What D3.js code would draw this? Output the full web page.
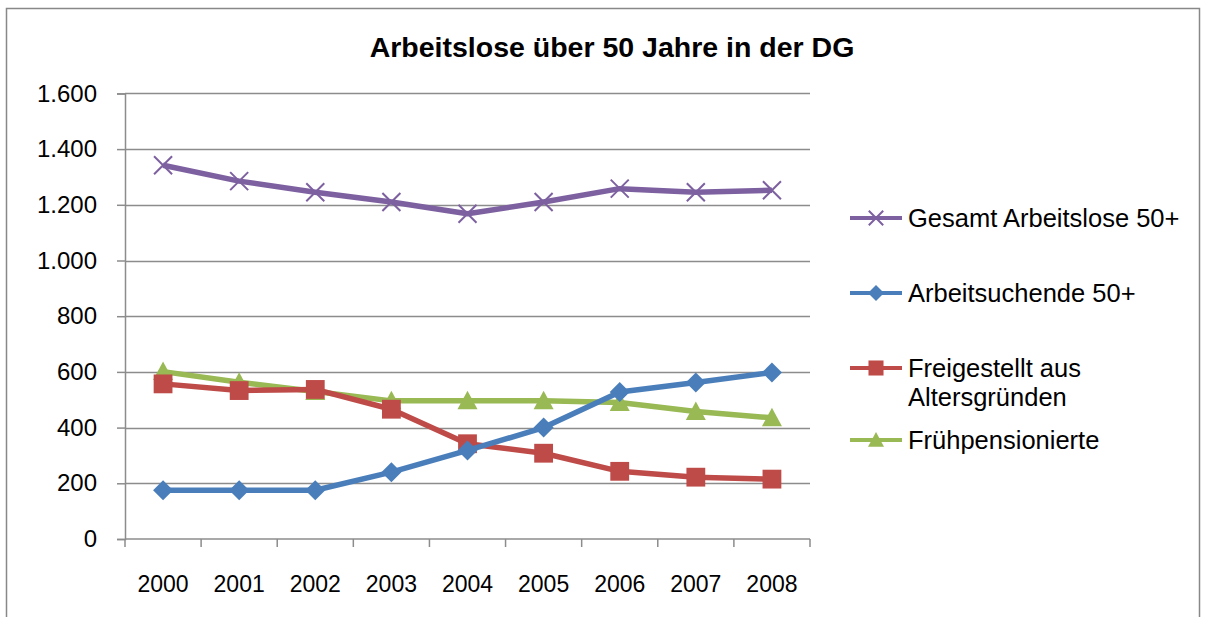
<!DOCTYPE html>
<html>
<head>
<meta charset="utf-8">
<script src="https://cdn.jsdelivr.net/npm/d3@7"></script>
<style>
  body { margin: 0; background: #fff; }
  text { font-family: "Liberation Sans", Arial, sans-serif; }
</style>
</head>
<body>
<svg id="chart" width="1207" height="617"></svg>
<script>
var years = ["2000","2001","2002","2003","2004","2005","2006","2007","2008"];
var gesamt = [1342, 1285, 1245, 1210, 1168, 1210, 1258, 1245, 1252];
var suchende = [175, 175, 175, 240, 318, 400, 528, 562, 598];
var freigestellt = [557, 533, 537, 466, 342, 308, 243, 222, 215];
var frueh = [601, 563, 530, 496, 496, 496, 490, 458, 435];
var yTicks = [0, 200, 400, 600, 800, 1000, 1200, 1400, 1600];

var series = [
  { name: ["Gesamt Arbeitslose 50+"], values: gesamt, color: "#7D60A0", marker: "x" },
  { name: ["Arbeitsuchende 50+"], values: suchende, color: "#4A7EBB", marker: "diamond" },
  { name: ["Freigestellt aus", "Altersgründen"], values: freigestellt, color: "#BE4B48", marker: "square" },
  { name: ["Frühpensionierte"], values: frueh, color: "#98B954", marker: "triangle" }
];

var svg = d3.select('#chart');

// outer frame
svg.append('rect')
  .attr('x', 6.5).attr('y', 8.5).attr('width', 1193).attr('height', 640)
  .attr('fill', 'none').attr('stroke', '#888').attr('stroke-width', 1.5);

svg.append('text')
  .attr('x', 612).attr('y', 57)
  .attr('text-anchor', 'middle')
  .attr('font-size', 28.5).attr('font-weight', 'bold')
  .text('Arbeitslose über 50 Jahre in der DG');

var pLeft = 125, pRight = 810, pTop = 93.4, pBottom = 539;
var x = d3.scaleBand().domain(years).range([pLeft, pRight]);
var y = d3.scaleLinear().domain([0, 1600]).range([pBottom, pTop]);

// gridlines
svg.append('g').selectAll('line').data(yTicks.slice(1)).enter().append('line')
  .attr('x1', pLeft).attr('x2', pRight)
  .attr('y1', function(d){ return Math.round(y(d)) + 0.5 })
  .attr('y2', function(d){ return Math.round(y(d)) + 0.5 })
  .attr('stroke', '#8c8c8c').attr('stroke-width', 1.5);

var fmt = function(d){ return d3.format(',')(d).replace(/,/g, '.') };

var yAxis = svg.append('g')
  .attr('transform', 'translate(' + pLeft + ',0)')
  .call(d3.axisLeft(y).tickValues(yTicks).tickFormat(fmt).tickSize(8).tickPadding(20));
yAxis.select('.domain').attr('stroke', '#8c8c8c').attr('stroke-width', 1.5);
yAxis.selectAll('.tick line').attr('stroke', '#8c8c8c').attr('stroke-width', 1.5);
yAxis.selectAll('.tick text').attr('font-size', 24).attr('fill', '#000')
  .attr('font-family', '"Liberation Sans", Arial, sans-serif');

var xAxis = svg.append('g')
  .attr('transform', 'translate(0,' + pBottom + ')');
xAxis.append('line').attr('x1', pLeft).attr('x2', pRight).attr('y1', 0).attr('y2', 0)
  .attr('stroke', '#8c8c8c').attr('stroke-width', 1.5);
xAxis.selectAll('.xt').data(years.concat(['end'])).enter().append('line')
  .attr('class', 'xt')
  .attr('x1', function(d, i){ return pLeft + i * x.step() })
  .attr('x2', function(d, i){ return pLeft + i * x.step() })
  .attr('y1', 0).attr('y2', 8)
  .attr('stroke', '#8c8c8c').attr('stroke-width', 1.5);
xAxis.selectAll('.xl').data(years).enter().append('text')
  .attr('x', function(d){ return x(d) + x.bandwidth() / 2 })
  .attr('y', 53)
  .attr('text-anchor', 'middle').attr('font-size', 23)
  .text(function(d){ return d });

function drawMarker(g, type, color, size) {
  if (type === 'x') {
    var s = size * 0.45;
    g.append('path').attr('d', 'M' + (-s) + ',' + (-s) + 'L' + s + ',' + s + 'M' + (-s) + ',' + s + 'L' + s + ',' + (-s))
      .attr('stroke', color).attr('stroke-width', 2).attr('fill', 'none');
  } else if (type === 'diamond') {
    var d = size / 2;
    g.append('path').attr('d', 'M0,' + (-d) + 'L' + d + ',0L0,' + d + 'L' + (-d) + ',0Z').attr('fill', color);
  } else if (type === 'square') {
    var q = size * 0.47;
    g.append('rect').attr('x', -q).attr('y', -q).attr('width', 2 * q).attr('height', 2 * q).attr('fill', color);
  } else {
    var t = size / 2;
    g.append('path').attr('d', 'M0,' + (-t) + 'L' + (t * 1.0) + ',' + (t * 0.85) + 'L' + (-t * 1.0) + ',' + (t * 0.85) + 'Z').attr('fill', color);
  }
}

var line = d3.line()
  .x(function(d, i){ return x(years[i]) + x.bandwidth() / 2 })
  .y(function(d){ return y(d) });

// draw in reverse so purple/blue sit on top like the original order
series.slice().reverse().forEach(function(s) {
  svg.append('path').datum(s.values)
    .attr('d', line).attr('fill', 'none')
    .attr('stroke', s.color).attr('stroke-width', 5.5).attr('stroke-linejoin', 'round');
  s.values.forEach(function(v, i) {
    var g = svg.append('g').attr('transform', 'translate(' + (x(years[i]) + x.bandwidth() / 2) + ',' + y(v) + ')');
    drawMarker(g, s.marker, s.color, 20);
  });
});

// legend
var legendY = [218, 293, 368, 440];
series.forEach(function(s, i) {
  var g = svg.append('g').attr('transform', 'translate(850,' + legendY[i] + ')');
  g.append('line').attr('x1', 0).attr('x2', 52).attr('stroke', s.color).attr('stroke-width', 4);
  var mg = g.append('g').attr('transform', 'translate(26,0)');
  drawMarker(mg, s.marker, s.color, 16);
  var t = g.append('text').attr('x', 58).attr('y', 9).attr('font-size', 25.5);
  s.name.forEach(function(n, j) {
    t.append('tspan').attr('x', 58).attr('dy', j === 0 ? 0 : 29).text(n);
  });
});
</script>
</body>
</html>
